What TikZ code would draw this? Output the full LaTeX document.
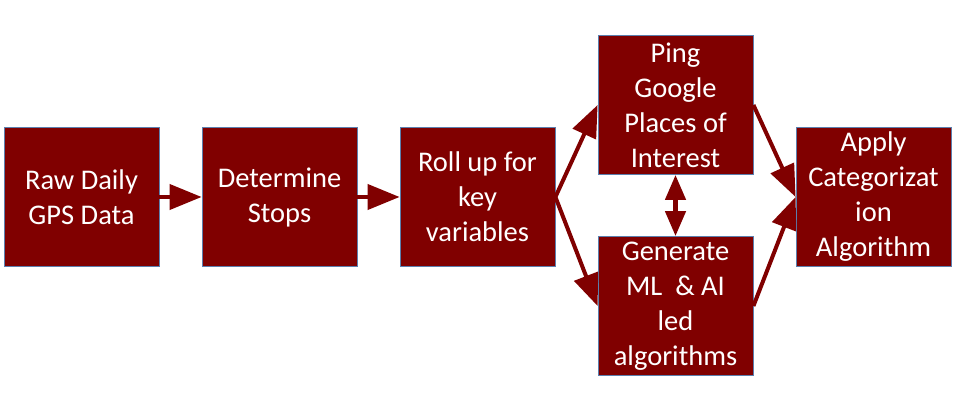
\documentclass[tikz,border=0pt]{standalone}
\usepackage{fontspec}
\setmainfont{Carlito}
\usetikzlibrary{arrows.meta}
\definecolor{boxred}{HTML}{800000}
\definecolor{boxline}{HTML}{5B7FAE}
\begin{document}
\begin{tikzpicture}[x=1pt,y=1pt,
  stepbox/.style={draw=boxline, line width=0.8pt, fill=boxred, text=white,
    minimum width=155pt, minimum height=139pt, inner sep=0pt, align=center,
    font=\fontsize{28.5}{35}\selectfont},
  bigarrow/.style={draw=boxred, line width=4pt,
    -{Triangle[length=32pt,width=25pt]}},
  dblarrow/.style={draw=boxred, line width=4.5pt,
    {Triangle[length=25pt,width=20pt]}-{Triangle[length=25pt,width=20pt]}}]
\useasboundingbox (0,0) rectangle (973,417);
\node[stepbox] (raw) at (81.5,220) {Raw Daily\\GPS Data};
\node[stepbox] (stops) at (279.5,220) {Determine\\Stops};
\node[stepbox] (roll) at (477.5,220) {Roll up for\\key\\variables};
\node[stepbox] (ping) at (675.5,312) {Ping\\Google\\Places of\\Interest};
\node[stepbox] (gen) at (675.5,111) {Generate\\ML\ \ \& AI\\led\\algorithms};
\node[stepbox] (apply) at (873.5,220) {Apply\\Categorizat\\ion\\Algorithm};
\draw[bigarrow] (raw.east) -- (stops.west);
\draw[bigarrow] (stops.east) -- (roll.west);
\draw[bigarrow] (roll.east) -- (ping.west);
\draw[bigarrow] (roll.east) -- (gen.west);
\draw[bigarrow] (ping.east) -- (apply.west);
\draw[bigarrow] (gen.east) -- (apply.west);
\draw[dblarrow] (ping.south) -- (gen.north);
\end{tikzpicture}
\end{document}
